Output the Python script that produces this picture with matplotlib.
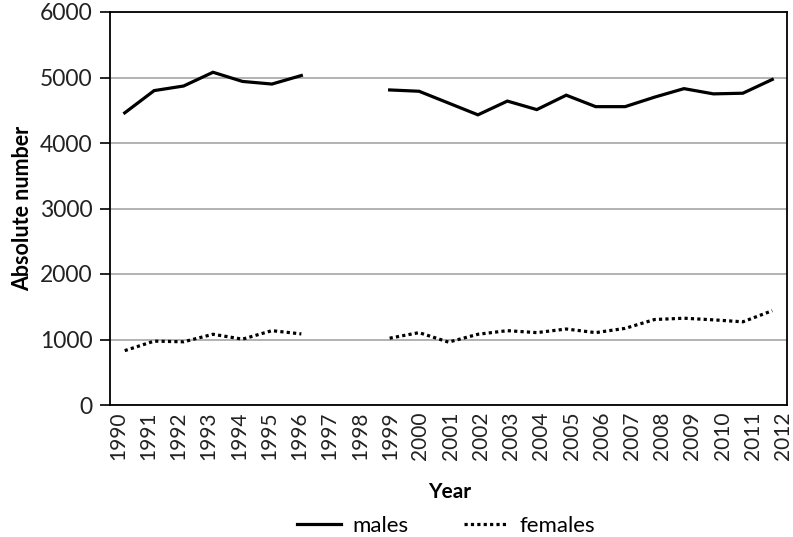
import numpy as np
import matplotlib
matplotlib.use("Agg")
import matplotlib.pyplot as plt

years = [str(y) for y in range(1990, 2013)]
males = [4460, 4800, 4870, 5080, 4940, 4900, 5030, np.nan, np.nan,
         4810, 4790, 4610, 4430, 4640, 4510, 4730, 4555, 4555, 4700,
         4830, 4750, 4760, 4970]
females = [830, 975, 965, 1080, 1005, 1135, 1085, np.nan, np.nan,
           1020, 1105, 960, 1080, 1135, 1105, 1160, 1105, 1170, 1305,
           1325, 1300, 1270, 1440]
yticks = [0, 1000, 2000, 3000, 4000, 5000, 6000]

plt.rcParams['font.family'] = ['Lato', 'DejaVu Sans']

fig = plt.figure(figsize=(7.93, 5.37), dpi=100)
ax = fig.add_axes([110/793, 1-405/537, (787-110)/793, (405-12)/537])

x = np.arange(len(years))
ax.plot(x, males, color='black', lw=2.3, solid_joinstyle='miter', label='males')
ax.plot(x, females, color='black', lw=2.3, linestyle=(0, (1, 1)), label='females')

ax.set_xlim(-0.5, len(years) - 0.5)
ax.set_ylim(0, 6000)
ax.set_yticks(yticks)
ax.set_yticklabels([str(v) for v in yticks], fontsize=16.5, color='#222222')
ax.yaxis.grid(True, color='#a6a6a6', lw=1.2)
ax.set_axisbelow(True)

# tick labels slightly spread relative to category centres, as in the reference
lab_pos = np.linspace(-0.23, len(years) - 1 + 0.37, len(years))
ax.set_xticks(lab_pos)
ax.set_xticklabels(years, rotation=90, fontsize=15, color='#222222')
ax.tick_params(axis='x', length=0, pad=5)
ax.tick_params(axis='y', length=7.5, width=1.2, pad=5, direction='out')

for s in ax.spines.values():
    s.set_color('black')
    s.set_linewidth(1.3)

ax.set_ylabel('Absolute number', fontsize=15.5, fontweight='bold', labelpad=5)
fig.text(450/793, 1-492/537, 'Year', ha='center', va='center', fontsize=15, fontweight='bold')

fig.legend(loc='center', bbox_to_anchor=(446/793, 1-526/537), ncol=2, frameon=False,
           handlelength=2.0, handletextpad=0.5, columnspacing=2.5,
           prop={'size': 16})

fig.savefig('out.png', dpi=100)
